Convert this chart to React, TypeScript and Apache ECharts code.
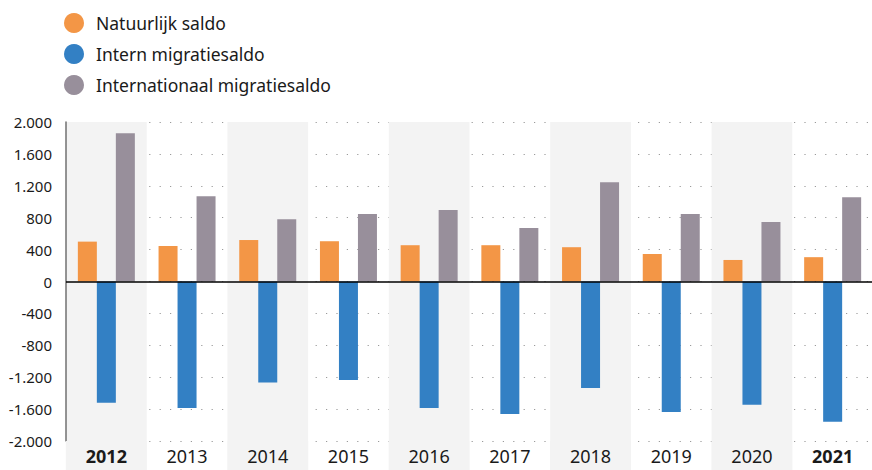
import React, { useEffect, useRef } from "react";
import * as echarts from "echarts";

const years = ["2012", "2013", "2014", "2015", "2016", "2017", "2018", "2019", "2020", "2021"];
const natuurlijkSaldo = [500, 445, 520, 505, 455, 455, 430, 345, 270, 305];
const internMigratiesaldo = [-1520, -1585, -1265, -1235, -1585, -1660, -1335, -1635, -1545, -1760];
const internationaalMigratiesaldo = [1860, 1070, 780, 845, 895, 670, 1245, 845, 745, 1055];
const boldYears = ["2012", "2021"];

const ORANGE = "#F39646";
const BLUE = "#3380C4";
const GREY = "#988F9B";
const BAND = "#F3F3F3";
const TEXT = "#1a1a1a";
const FONT = "'Noto Sans', 'Open Sans', sans-serif";

const fmt = (v: number) => {
  const s = Math.abs(v).toString().replace(/\B(?=(\d{3})+(?!\d))/g, ".");
  return (v < 0 ? "-" : "") + s;
};

export default function App() {
  const ref = useRef<HTMLDivElement>(null);
  useEffect(() => {
    if (!ref.current) return;
    const chart = echarts.init(ref.current, undefined, { renderer: "svg" });
    const catW = 81;
    const labelBase = {
      width: catW,
      height: 29,
      lineHeight: 29,
      align: "center" as const,
      fontSize: 18,
      fontFamily: FONT,
      color: TEXT,
    };
    chart.setOption({
      animation: false,
      backgroundColor: "#ffffff",
      legend: {
        orient: "vertical",
        left: 59,
        top: 8,
        itemWidth: 34,
        itemHeight: 20,
        itemGap: 11,
        icon: "circle",
        selectedMode: false,
        textStyle: { fontSize: 17.5, fontFamily: FONT, color: TEXT, lineHeight: 20 },
        data: ["Natuurlijk saldo", "Intern migratiesaldo", "Internationaal migratiesaldo"],
      },
      grid: { left: 66, top: 122, right: 0, height: 319, containLabel: false },
      xAxis: {
        type: "category",
        data: years,
        position: "bottom",
        axisLine: { show: false },
        axisTick: { show: false },
        splitLine: { show: false },
        splitArea: { show: true, interval: 0, areaStyle: { color: [BAND, "rgba(255,255,255,0)"] } },
        axisLabel: {
          interval: 0,
          margin: 0,
          formatter: (value: string, index: number) => {
            const shaded = index % 2 === 0;
            const bold = boldYears.includes(value);
            return `{${shaded ? "s" : "w"}${bold ? "b" : "n"}|${value}}`;
          },
          rich: {
            sb: { ...labelBase, backgroundColor: BAND, fontWeight: "bold" },
            sn: { ...labelBase, backgroundColor: BAND },
            wb: { ...labelBase, fontWeight: "bold" },
            wn: { ...labelBase },
          },
        },
      },
      yAxis: {
        type: "value",
        min: -2000,
        max: 2000,
        interval: 400,
        axisLine: { show: true, lineStyle: { color: "#707070", width: 1.5 } },
        axisTick: { show: false },
        axisLabel: {
          margin: 14,
          fontSize: 15,
          fontFamily: FONT,
          color: TEXT,
          formatter: (v: number) => fmt(v),
        },
        splitLine: {
          show: true,
          lineStyle: { color: "#9a9a9a", width: 1.2, type: [1.2, 9.2] },
        },
      },
      series: [
        {
          name: "Natuurlijk saldo",
          type: "bar",
          data: natuurlijkSaldo,
          barWidth: 19,
          barGap: "0%",
          itemStyle: { color: ORANGE },
          markLine: {
            silent: true,
            symbol: "none",
            label: { show: false },
            lineStyle: { color: "#000", width: 1.5, type: "solid" },
            data: [{ yAxis: 0 }],
          },
        },
        {
          name: "Intern migratiesaldo",
          type: "bar",
          data: internMigratiesaldo,
          barWidth: 19,
          barGap: "0%",
          itemStyle: { color: BLUE },
        },
        {
          name: "Internationaal migratiesaldo",
          type: "bar",
          data: internationaalMigratiesaldo,
          barWidth: 19,
          barGap: "0%",
          itemStyle: { color: GREY },
        },
      ],
    });
    return () => chart.dispose();
  }, []);
  return (
    <div style={{ position: "fixed", left: 0, top: 0, width: 872, height: 470, overflow: "hidden", background: "#fff" }}>
      <div ref={ref} style={{ width: 876, height: 470 }} />
    </div>
  );
}
